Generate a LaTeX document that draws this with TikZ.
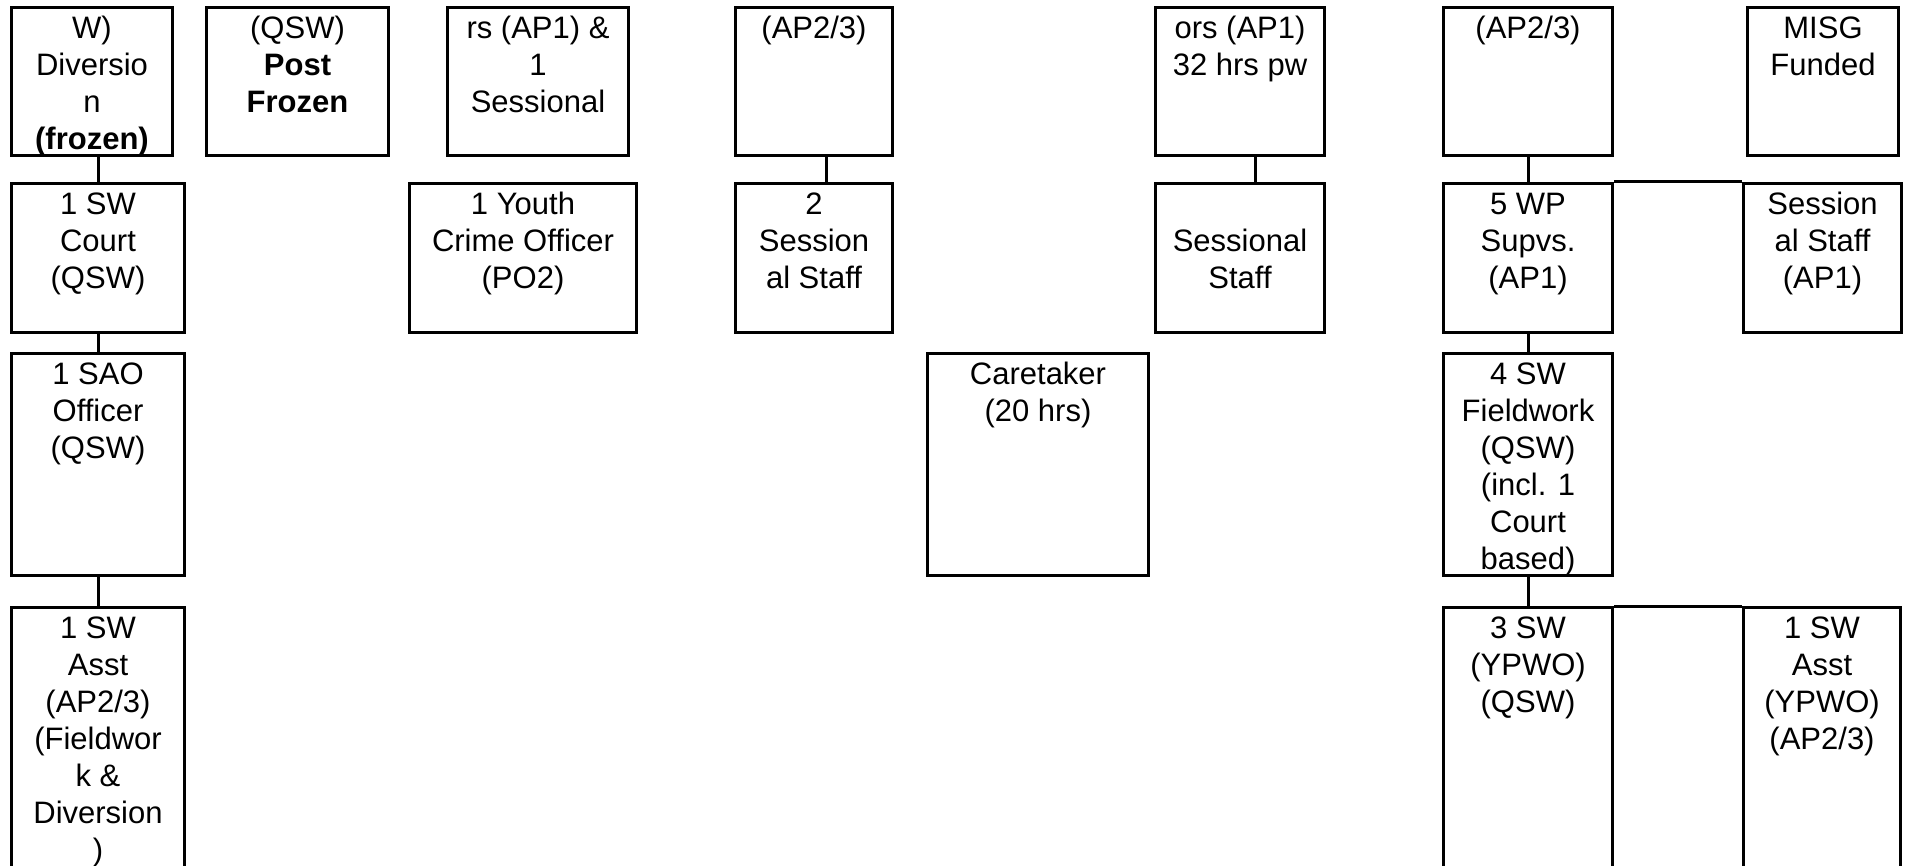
\documentclass[tikz,border=0pt]{standalone}
\usepackage{fontspec}
\setmainfont{Liberation Sans}
\usepackage{tikz}
\usetikzlibrary{positioning, calc}

% box body: width, height, text (top aligned, centred)
\newcommand{\postbox}[3]{\parbox[c][#2][t]{#1}{\centering\rule{0pt}{31pt}#3}}

\begin{document}
\begin{tikzpicture}[x=1pt, y=-1pt, font=\fontsize{31}{37}\selectfont,
    post/.style={draw, line width=3pt, inner sep=0pt, anchor=north west},
    link/.style={line width=3pt}]
    \useasboundingbox (0,0) rectangle (1905,866);
    \clip (0,0) rectangle (1905,866);

    % top row
    \node[post] (divn)   at (10,6)   {\postbox{161pt}{148pt}{W)\\Diversio\\n\\\textbf{(frozen)}}};
    \node[post] (postq)  at (205,6)  {\postbox{182pt}{148pt}{(QSW)\\\textbf{Post}\\\textbf{Frozen}}};
    \node[post] (sesn1)  at (446,6)  {\postbox{181pt}{148pt}{rs (AP1) \&\\1\\Sessional}};
    \node[post] (ap23a)  at (734,6)  {\postbox{157pt}{148pt}{(AP2/3)}};
    \node[post] (ap1hrs) at (1154,6) {\postbox{169pt}{148pt}{ors (AP1)\\32 hrs pw}};
    \node[post] (ap23b)  at (1442,6) {\postbox{169pt}{148pt}{(AP2/3)}};
    \node[post] (misg)   at (1746,6) {\postbox{151pt}{148pt}{MISG\\Funded}};

    % second row
    \node[post] (court) at (10,182)   {\postbox{173pt}{149pt}{1 SW\\Court\\(QSW)}};
    \node[post] (yco)   at (408,182)  {\postbox{227pt}{149pt}{1 Youth\\Crime Officer\\(PO2)}};
    \node[post] (sesn2) at (734,182)  {\postbox{157pt}{149pt}{2\\Session\\al Staff}};
    \node[post] (sesn3) at (1154,182) {\postbox{169pt}{149pt}{\\Sessional\\Staff}};
    \node[post] (wpsup) at (1442,182) {\postbox{169pt}{149pt}{5 WP\\Supvs.\\(AP1)}};
    \node[post] (sesn4) at (1742,182) {\postbox{158pt}{149pt}{Session\\al Staff\\(AP1)}};

    % third row
    \node[post] (sao)   at (10,352)   {\postbox{173pt}{222pt}{1 SAO\\Officer\\(QSW)}};
    \node[post] (care)  at (926,352)  {\postbox{221pt}{222pt}{Caretaker\\(20 hrs)}};
    \node[post] (field) at (1442,352) {\postbox{169pt}{222pt}{4 SW\\Fieldwork\\(QSW)\\(incl. 1\\Court\\based)}};

    % bottom row
    \node[post] (swasst) at (10,606)   {\postbox{173pt}{274pt}{1 SW\\Asst\\(AP2/3)\\(Fieldwor\\k \&\\Diversion\\)}};
    \node[post] (ypwo)   at (1442,606) {\postbox{169pt}{274pt}{3 SW\\(YPWO)\\(QSW)}};
    \node[post] (ypasst) at (1742,606) {\postbox{157pt}{274pt}{1 SW\\Asst\\(YPWO)\\(AP2/3)}};

    % lines
    \draw[link] (court.north |- divn.south) -- (court.north);
    \draw[link] (court.south) -- (sao.north);
    \draw[link] (sao.south) -- (swasst.north);
    \draw[link] ([xshift=12pt]ap23a.south) -- ([xshift=12pt]sesn2.north);
    \draw[link] ([xshift=15pt]ap1hrs.south) -- ([xshift=15pt]sesn3.north);
    \draw[link] (ap23b.south) -- (wpsup.north);
    \draw[link] (wpsup.north east) -- (sesn4.north west);
    \draw[link] (wpsup.south) -- (field.north);
    \draw[link] (field.south) -- (ypwo.north);
    \draw[link] (ypwo.north east) -- (ypasst.north west);
\end{tikzpicture}
\end{document}
